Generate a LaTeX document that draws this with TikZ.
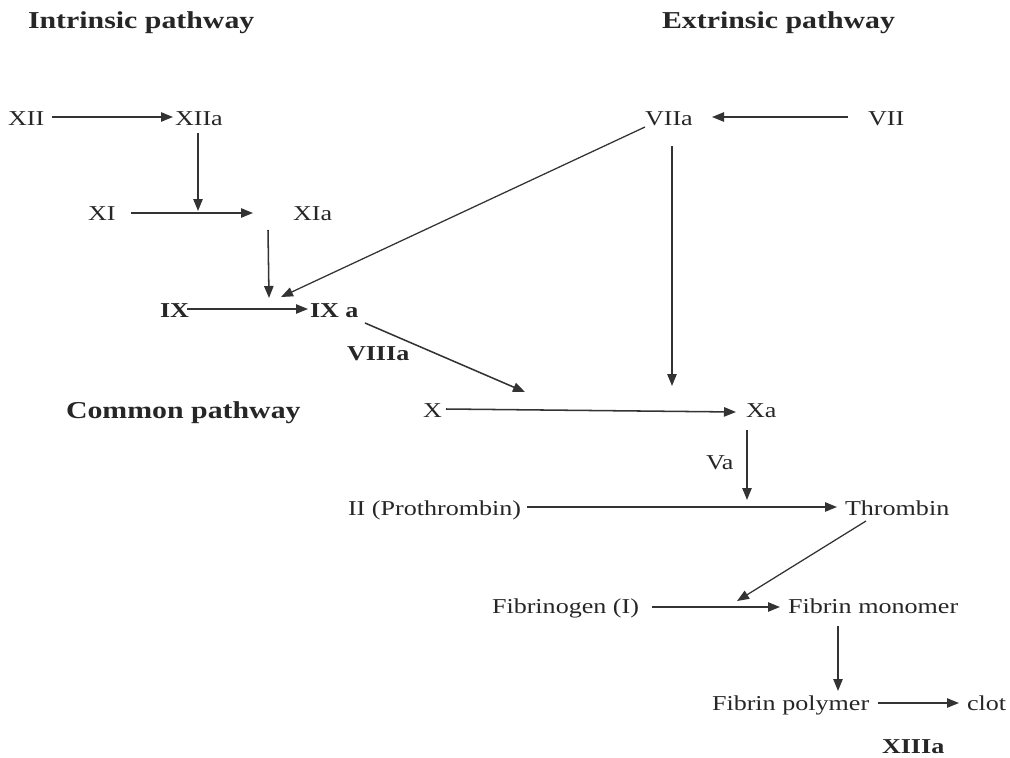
\documentclass[tikz,border=0pt]{standalone}
\usepackage{fontspec}
\setmainfont{Liberation Serif}[FakeStretch=1.23]
\usetikzlibrary{arrows.meta}
\begin{document}
\begin{tikzpicture}[x=0.75pt,y=-0.75pt,
  lbl/.style={anchor=base west,inner sep=0pt,outer sep=0pt,text=black!85,font=\fontsize{15.9}{18}\selectfont},
  blbl/.style={lbl,font=\fontsize{15.9}{18}\selectfont\bfseries},
  head/.style={lbl,font=\fontsize{18.2}{22}\selectfont\bfseries},
  arr/.style={draw=black!80,line width=1.15pt,-{Triangle[length=9pt,width=7pt]}}]
\useasboundingbox (0,0) rectangle (1010,757);
% headings
\node[head] (hin) at (28,28) {Intrinsic pathway};
\node[head] (hex) at (662,28) {Extrinsic pathway};
\node[head] (hcom) at (66,418) {Common pathway};
% factors
\node[lbl] (XII) at (8,125) {XII};
\node[lbl] (XIIa) at (175,125) {XIIa};
\node[lbl] (VIIa) at (645,125) {VIIa};
\node[lbl] (VII) at (868,125) {VII};
\node[lbl] (XI) at (88,220) {XI};
\node[lbl] (XIa) at (293,220) {XIa};
\node[blbl] (IX) at (160,317) {IX};
\node[blbl] (IXa) at (310,317) {IX a};
\node[blbl] (VIIIa) at (347,360) {VIIIa};
\node[lbl] (X) at (423,417) {X};
\node[lbl] (Xa) at (746,417) {Xa};
\node[lbl] (Va) at (706,469) {Va};
\node[lbl] (II) at (348,515) {II (Prothrombin)};
\node[lbl] (Thr) at (845,515) {Thrombin};
\node[lbl] (Fgn) at (492,613) {Fibrinogen (I)};
\node[lbl] (Fmon) at (788,613) {Fibrin monomer};
\node[lbl] (Fpol) at (712,710) {Fibrin polymer};
\node[lbl] (clot) at (967,710) {clot};
\node[blbl] (XIIIa) at (882,753) {XIIIa};
% connector ends
\coordinate (a1s) at (52,117);   \coordinate (a1e) at (173,117);
\coordinate (a2s) at (848,117);  \coordinate (a2e) at (712,117);
\coordinate (a3s) at (198,133);  \coordinate (a3e) at (198,211);
\coordinate (a4s) at (131,213);  \coordinate (a4e) at (253,213);
\coordinate (a5s) at (268,230);  \coordinate (a5e) at (269,298);
\coordinate (a6s) at (645,127);  \coordinate (a6e) at (281,297);
\coordinate (a7s) at (187,309);  \coordinate (a7e) at (308,309);
\coordinate (a8s) at (365,323);  \coordinate (a8e) at (525,392);
\coordinate (a9s) at (672,146);  \coordinate (a9e) at (672,386);
\coordinate (a10s) at (446,409); \coordinate (a10e) at (736,412);
\coordinate (a11s) at (747,430); \coordinate (a11e) at (747,500);
\coordinate (a12s) at (527,507); \coordinate (a12e) at (837,507);
\coordinate (a13s) at (866,521); \coordinate (a13e) at (737,601);
\coordinate (a14s) at (652,607); \coordinate (a14e) at (780,607);
\coordinate (a15s) at (838,626); \coordinate (a15e) at (838,691);
\coordinate (a16s) at (878,703); \coordinate (a16e) at (959,703);
% connectors
\draw[arr] (a1s) -- (a1e);
\draw[arr] (a2s) -- (a2e);
\draw[arr] (a3s) -- (a3e);
\draw[arr] (a4s) -- (a4e);
\draw[arr] (a5s) -- (a5e);
\draw[arr,line width=0.95pt] (a6s) -- (a6e);
\draw[arr] (a7s) -- (a7e);
\draw[arr] (a8s) -- (a8e);
\draw[arr] (a9s) -- (a9e);
\draw[arr] (a10s) -- (a10e);
\draw[arr] (a11s) -- (a11e);
\draw[arr] (a12s) -- (a12e);
\draw[arr,line width=0.95pt] (a13s) -- (a13e);
\draw[arr] (a14s) -- (a14e);
\draw[arr] (a15s) -- (a15e);
\draw[arr] (a16s) -- (a16e);
\end{tikzpicture}
\end{document}
